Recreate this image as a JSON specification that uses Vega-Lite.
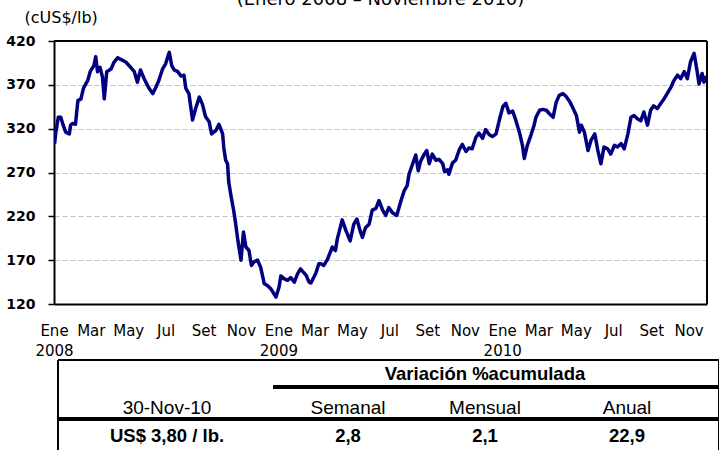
{
  "$schema": "https://vega.github.io/schema/vega-lite/v6.json",
  "background": "white",
  "padding": {"left": 5, "top": -9, "right": 0, "bottom": 0},
  "spacing": 1,
  "config": {"font": "DejaVu Sans"},
  "vconcat": [
    {
      "width": 653,
      "height": 263,
      "view": {"stroke": null},
      "title": {"text": "(Enero 2008 – Noviembre 2010)", "fontSize": 18, "fontWeight": "normal", "font": "DejaVu Sans", "color": "#000000", "offset": 0, "anchor": "middle", "frame": "group"},
      "data": {"values": [
        {"date": "2008-01-02", "price": 303}, {"date": "2008-01-04", "price": 316}, {"date": "2008-01-08", "price": 333}, {"date": "2008-01-12", "price": 333},
        {"date": "2008-01-16", "price": 324}, {"date": "2008-01-20", "price": 316}, {"date": "2008-01-26", "price": 314}, {"date": "2008-01-28", "price": 324},
        {"date": "2008-01-31", "price": 326}, {"date": "2008-02-05", "price": 325}, {"date": "2008-02-09", "price": 352}, {"date": "2008-02-14", "price": 354},
        {"date": "2008-02-18", "price": 366}, {"date": "2008-02-25", "price": 375}, {"date": "2008-02-29", "price": 385}, {"date": "2008-03-06", "price": 392},
        {"date": "2008-03-09", "price": 402}, {"date": "2008-03-12", "price": 385}, {"date": "2008-03-16", "price": 390}, {"date": "2008-03-20", "price": 379},
        {"date": "2008-03-23", "price": 354}, {"date": "2008-03-27", "price": 385}, {"date": "2008-04-03", "price": 388}, {"date": "2008-04-08", "price": 396},
        {"date": "2008-04-14", "price": 401}, {"date": "2008-04-19", "price": 399}, {"date": "2008-04-27", "price": 396}, {"date": "2008-05-05", "price": 390},
        {"date": "2008-05-11", "price": 385}, {"date": "2008-05-16", "price": 373}, {"date": "2008-05-21", "price": 387}, {"date": "2008-05-27", "price": 377},
        {"date": "2008-06-04", "price": 366}, {"date": "2008-06-10", "price": 360}, {"date": "2008-06-15", "price": 367}, {"date": "2008-06-20", "price": 375},
        {"date": "2008-06-26", "price": 388}, {"date": "2008-07-01", "price": 394}, {"date": "2008-07-07", "price": 407}, {"date": "2008-07-11", "price": 392},
        {"date": "2008-07-15", "price": 387}, {"date": "2008-07-21", "price": 385}, {"date": "2008-07-26", "price": 380}, {"date": "2008-07-31", "price": 381},
        {"date": "2008-08-03", "price": 366}, {"date": "2008-08-08", "price": 360}, {"date": "2008-08-14", "price": 330}, {"date": "2008-08-19", "price": 343},
        {"date": "2008-08-25", "price": 356}, {"date": "2008-08-30", "price": 348}, {"date": "2008-09-04", "price": 334}, {"date": "2008-09-10", "price": 328},
        {"date": "2008-09-14", "price": 314}, {"date": "2008-09-21", "price": 318}, {"date": "2008-09-26", "price": 325}, {"date": "2008-10-02", "price": 314},
        {"date": "2008-10-04", "price": 298}, {"date": "2008-10-07", "price": 284}, {"date": "2008-10-10", "price": 280}, {"date": "2008-10-12", "price": 259},
        {"date": "2008-10-16", "price": 242}, {"date": "2008-10-20", "price": 227}, {"date": "2008-10-23", "price": 213}, {"date": "2008-10-27", "price": 192},
        {"date": "2008-11-01", "price": 170}, {"date": "2008-11-05", "price": 202}, {"date": "2008-11-09", "price": 185}, {"date": "2008-11-14", "price": 181},
        {"date": "2008-11-18", "price": 164}, {"date": "2008-11-22", "price": 168}, {"date": "2008-11-28", "price": 170}, {"date": "2008-12-03", "price": 162},
        {"date": "2008-12-09", "price": 143}, {"date": "2008-12-14", "price": 141}, {"date": "2008-12-20", "price": 137}, {"date": "2008-12-28", "price": 128},
        {"date": "2009-01-02", "price": 139}, {"date": "2009-01-05", "price": 152}, {"date": "2009-01-10", "price": 149}, {"date": "2009-01-16", "price": 147},
        {"date": "2009-01-21", "price": 150}, {"date": "2009-01-27", "price": 145}, {"date": "2009-02-01", "price": 154}, {"date": "2009-02-06", "price": 160},
        {"date": "2009-02-15", "price": 153}, {"date": "2009-02-20", "price": 145}, {"date": "2009-02-23", "price": 144}, {"date": "2009-03-03", "price": 155},
        {"date": "2009-03-08", "price": 166}, {"date": "2009-03-11", "price": 166}, {"date": "2009-03-16", "price": 164}, {"date": "2009-03-22", "price": 171},
        {"date": "2009-03-30", "price": 185}, {"date": "2009-04-04", "price": 181}, {"date": "2009-04-07", "price": 194}, {"date": "2009-04-15", "price": 216},
        {"date": "2009-04-21", "price": 204}, {"date": "2009-04-28", "price": 192}, {"date": "2009-05-04", "price": 211}, {"date": "2009-05-09", "price": 217},
        {"date": "2009-05-14", "price": 204}, {"date": "2009-05-18", "price": 196}, {"date": "2009-05-23", "price": 207}, {"date": "2009-05-29", "price": 211},
        {"date": "2009-06-03", "price": 227}, {"date": "2009-06-09", "price": 229}, {"date": "2009-06-14", "price": 238}, {"date": "2009-06-20", "price": 227},
        {"date": "2009-06-25", "price": 221}, {"date": "2009-06-30", "price": 230}, {"date": "2009-07-06", "price": 224}, {"date": "2009-07-13", "price": 221},
        {"date": "2009-07-20", "price": 238}, {"date": "2009-07-25", "price": 249}, {"date": "2009-07-30", "price": 255}, {"date": "2009-08-02", "price": 268},
        {"date": "2009-08-08", "price": 280}, {"date": "2009-08-13", "price": 290}, {"date": "2009-08-17", "price": 272}, {"date": "2009-08-21", "price": 283},
        {"date": "2009-08-27", "price": 291}, {"date": "2009-08-31", "price": 295}, {"date": "2009-09-04", "price": 280}, {"date": "2009-09-09", "price": 291},
        {"date": "2009-09-15", "price": 284}, {"date": "2009-09-20", "price": 285}, {"date": "2009-09-26", "price": 280}, {"date": "2009-09-29", "price": 271},
        {"date": "2009-10-04", "price": 273}, {"date": "2009-10-06", "price": 268}, {"date": "2009-10-12", "price": 281}, {"date": "2009-10-17", "price": 284},
        {"date": "2009-10-23", "price": 296}, {"date": "2009-10-28", "price": 302}, {"date": "2009-11-03", "price": 294}, {"date": "2009-11-08", "price": 298},
        {"date": "2009-11-13", "price": 297}, {"date": "2009-11-19", "price": 310}, {"date": "2009-11-24", "price": 315}, {"date": "2009-11-30", "price": 309},
        {"date": "2009-12-05", "price": 319}, {"date": "2009-12-11", "price": 313}, {"date": "2009-12-16", "price": 311}, {"date": "2009-12-22", "price": 314},
        {"date": "2009-12-27", "price": 329}, {"date": "2010-01-02", "price": 345}, {"date": "2010-01-07", "price": 349}, {"date": "2010-01-12", "price": 338},
        {"date": "2010-01-18", "price": 340}, {"date": "2010-01-23", "price": 330}, {"date": "2010-01-29", "price": 316}, {"date": "2010-02-03", "price": 301},
        {"date": "2010-02-06", "price": 286}, {"date": "2010-02-11", "price": 301}, {"date": "2010-02-17", "price": 313}, {"date": "2010-02-22", "price": 324},
        {"date": "2010-02-25", "price": 333}, {"date": "2010-03-03", "price": 341}, {"date": "2010-03-08", "price": 342}, {"date": "2010-03-14", "price": 341},
        {"date": "2010-03-19", "price": 337}, {"date": "2010-03-25", "price": 333}, {"date": "2010-03-30", "price": 350}, {"date": "2010-04-04", "price": 358},
        {"date": "2010-04-10", "price": 360}, {"date": "2010-04-15", "price": 357}, {"date": "2010-04-21", "price": 351}, {"date": "2010-04-26", "price": 344},
        {"date": "2010-05-02", "price": 335}, {"date": "2010-05-07", "price": 316}, {"date": "2010-05-10", "price": 324}, {"date": "2010-05-15", "price": 316},
        {"date": "2010-05-21", "price": 295}, {"date": "2010-05-26", "price": 307}, {"date": "2010-06-01", "price": 314}, {"date": "2010-06-06", "price": 295},
        {"date": "2010-06-11", "price": 280}, {"date": "2010-06-16", "price": 299}, {"date": "2010-06-22", "price": 297}, {"date": "2010-06-27", "price": 291},
        {"date": "2010-07-03", "price": 301}, {"date": "2010-07-08", "price": 299}, {"date": "2010-07-14", "price": 303}, {"date": "2010-07-19", "price": 297},
        {"date": "2010-07-25", "price": 314}, {"date": "2010-07-30", "price": 333}, {"date": "2010-08-04", "price": 335}, {"date": "2010-08-10", "price": 331},
        {"date": "2010-08-15", "price": 329}, {"date": "2010-08-20", "price": 339}, {"date": "2010-08-26", "price": 324}, {"date": "2010-08-31", "price": 341},
        {"date": "2010-09-05", "price": 346}, {"date": "2010-09-11", "price": 343}, {"date": "2010-09-16", "price": 348}, {"date": "2010-09-22", "price": 354},
        {"date": "2010-09-27", "price": 360}, {"date": "2010-10-03", "price": 367}, {"date": "2010-10-08", "price": 375}, {"date": "2010-10-14", "price": 381},
        {"date": "2010-10-19", "price": 377}, {"date": "2010-10-25", "price": 385}, {"date": "2010-10-30", "price": 377}, {"date": "2010-11-04", "price": 396},
        {"date": "2010-11-10", "price": 406}, {"date": "2010-11-15", "price": 385}, {"date": "2010-11-18", "price": 371}, {"date": "2010-11-23", "price": 383},
        {"date": "2010-11-26", "price": 373}, {"date": "2010-11-30", "price": 380}
      ]},
      "layer": [
        {
          "mark": {"type": "line", "color": "#000080", "strokeWidth": 3.5, "strokeJoin": "round", "clip": true},
          "encoding": {
            "x": {
              "field": "date", "type": "temporal",
              "scale": {"type": "utc", "domain": [{"year": 2008, "month": 1, "date": 1, "utc": true}, {"year": 2010, "month": 12, "date": 1, "utc": true}], "nice": false},
              "axis": {
                "title": null, "grid": false, "ticks": false,
                "tickCount": {"interval": "month", "step": 2},
                "labelExpr": "utcmonth(datum.value) == 0 ? [['Ene','Feb','Mar','Abr','May','Jun','Jul','Ago','Set','Oct','Nov','Dic'][utcmonth(datum.value)], '' + utcyear(datum.value)] : ['Ene','Feb','Mar','Abr','May','Jun','Jul','Ago','Set','Oct','Nov','Dic'][utcmonth(datum.value)]",
                "labelFlush": false, "labelOverlap": false, "labelAlign": "center",
                "labelFont": "DejaVu Sans", "labelFontSize": 15, "labelColor": "#000000", "labelPadding": 19, "labelLineHeight": 20,
                "domainColor": "#000000", "domainWidth": 2
              }
            },
            "y": {
              "field": "price", "type": "quantitative",
              "scale": {"domain": [120, 420], "nice": false, "zero": false},
              "axis": {
                "title": "(cUS$/lb)", "titleAngle": 0, "titleAlign": "left", "titleBaseline": "alphabetic",
                "titleX": -30, "titleY": -19, "titleFont": "DejaVu Sans", "titleFontSize": 16, "titleFontWeight": "normal", "titleColor": "#000000",
                "values": [120, 170, 220, 270, 320, 370, 420],
                "labelFont": "DejaVu Sans", "labelFontSize": 14, "labelFontWeight": "bold", "labelColor": "#000000", "labelPadding": 13,
                "ticks": true, "tickSize": 6, "tickColor": "#000000", "tickWidth": 1.5,
                "domainColor": "#000000", "domainWidth": 2,
                "grid": true, "gridColor": "#c0c0c0", "gridDash": [5, 3], "gridWidth": 1,
                "gridOpacity": {"condition": {"test": "datum.value == 120 || datum.value == 420", "value": 0}, "value": 1}
              }
            }
          }
        },
        {
          "mark": {"type": "rule", "color": "#000000", "strokeWidth": 1.5},
          "encoding": {
            "x": {"datum": {"year": 2008, "month": 1, "date": 1, "utc": true}, "type": "temporal", "title": null},
            "x2": {"datum": {"year": 2010, "month": 12, "date": 1, "utc": true}},
            "y": {"datum": 420, "type": "quantitative", "title": "(cUS$/lb)"}
          }
        },
        {
          "mark": {"type": "rule", "color": "#000000", "strokeWidth": 1.5},
          "encoding": {
            "x": {"datum": {"year": 2010, "month": 12, "date": 1, "utc": true}, "type": "temporal", "title": null},
            "y": {"datum": 120, "type": "quantitative", "title": "(cUS$/lb)"},
            "y2": {"datum": 420}
          }
        }
      ]
    },
    {
      "width": 667,
      "height": 100,
      "view": {"stroke": null},
      "data": {"values": [
        {"row": 0, "col": 2, "label": "Variación %acumulada"},
        {"row": 1, "col": 0, "label": "30-Nov-10"},
        {"row": 1, "col": 1, "label": "Semanal"},
        {"row": 1, "col": 2, "label": "Mensual"},
        {"row": 1, "col": 3, "label": "Anual"},
        {"row": 2, "col": 0, "label": "US$ 3,80 / lb."},
        {"row": 2, "col": 1, "label": "2,8"},
        {"row": 2, "col": 2, "label": "2,1"},
        {"row": 2, "col": 3, "label": "22,9"}
      ]},
      "layer": [
        {
          "transform": [{"filter": "datum.row != 1"}],
          "mark": {"type": "text", "font": "Liberation Sans", "fontSize": 18.5, "fontWeight": "bold", "color": "#000000", "align": "center", "baseline": "alphabetic"},
          "encoding": {
            "x": {"field": "col", "type": "quantitative", "axis": null, "scale": {"domain": [-0.5, 0, 0.5, 1, 1.5, 2, 2.5, 3, 3.5], "range": [4, 113, 219, 294, 371, 431, 491, 573, 665], "nice": false, "zero": false}},
            "y": {"field": "row", "type": "quantitative", "axis": null, "scale": {"domain": [-0.5, 0, 0.5, 1, 1.5, 2, 2.5], "range": [0, 20, 27, 54, 59, 82, 100], "nice": false, "zero": false}},
            "text": {"field": "label"}
          }
        },
        {
          "transform": [{"filter": "datum.row == 1"}],
          "mark": {"type": "text", "font": "Liberation Sans", "fontSize": 19, "fontWeight": "normal", "color": "#000000", "align": "center", "baseline": "alphabetic"},
          "encoding": {
            "x": {"field": "col", "type": "quantitative", "axis": null},
            "y": {"field": "row", "type": "quantitative", "axis": null},
            "text": {"field": "label"}
          }
        },
        {
          "mark": {"type": "rule", "color": "#000000", "strokeWidth": 2},
          "encoding": {
            "x": {"datum": -0.5, "type": "quantitative"},
            "x2": {"datum": 3.5},
            "y": {"datum": -0.5, "type": "quantitative"}
          }
        },
        {
          "mark": {"type": "rule", "color": "#000000", "strokeWidth": 2},
          "encoding": {
            "x": {"datum": -0.5, "type": "quantitative"},
            "y": {"datum": -0.5, "type": "quantitative"},
            "y2": {"datum": 2.5}
          }
        },
        {
          "mark": {"type": "rule", "color": "#000000", "strokeWidth": 2},
          "encoding": {
            "x": {"datum": 3.5, "type": "quantitative"},
            "y": {"datum": -0.5, "type": "quantitative"},
            "y2": {"datum": 2.5}
          }
        },
        {
          "mark": {"type": "rule", "color": "#000000", "strokeWidth": 4},
          "encoding": {
            "x": {"datum": 0.5, "type": "quantitative"},
            "x2": {"datum": 3.5},
            "y": {"datum": 0.5, "type": "quantitative"}
          }
        },
        {
          "mark": {"type": "rule", "color": "#000000", "strokeWidth": 3},
          "encoding": {
            "x": {"datum": -0.5, "type": "quantitative"},
            "x2": {"datum": 3.5},
            "y": {"datum": 1.5, "type": "quantitative"}
          }
        }
      ]
    }
  ]
}
